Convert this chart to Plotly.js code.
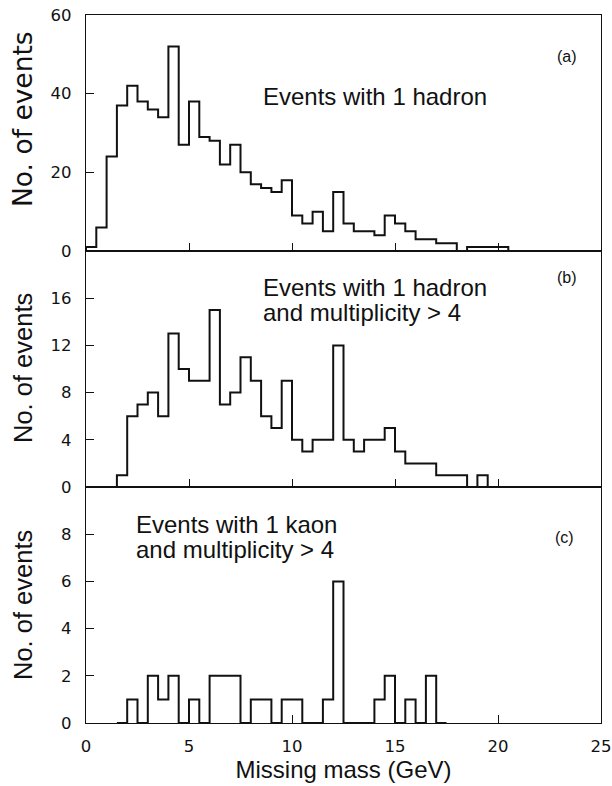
<!DOCTYPE html>
<html>
<head>
<meta charset="utf-8">
<script src="https://cdn.plot.ly/plotly-3.0.1.min.js"></script>
<style>html,body{margin:0;padding:0;background:#fff;}#chart{width:612px;height:786px;}</style>
</head>
<body>
<div id="chart"></div>
<script>
// Bin edges of missing mass (GeV), 0.5 GeV bins
const binEdges = [0,0.5,1,1.5,2,2.5,3,3.5,4,4.5,5,5.5,6,6.5,7,7.5,8,8.5,9,9.5,10,10.5,11,11.5,12,12.5,13,13.5,14,14.5,15,15.5,16,16.5,17,17.5,18,18.5,19,19.5,20,20.5,21];
// (a) Events with 1 hadron
const countsA = [1,6,24,37,42,38,36,34,52,27,38,29,28,22,27,20,17,16,15,18,9,7,10,5,15,7,5,5,4,9,7,5,3,3,2,2,0,1,1,1,1,0];
// (b) Events with 1 hadron and multiplicity > 4  (null = outside the drawn histogram)
const countsB = [null,null,0,1,6,7,8,6,13,10,9,9,15,7,8,11,9,6,5,9,4,3,4,4,12,4,3,4,4,5,3,2,2,2,1,1,1,0,1,0,null,null];
// (c) Events with 1 kaon and multiplicity > 4
const countsC = [null,null,null,0,1,0,2,1,2,0,1,0,2,2,2,0,1,1,0,1,1,0,0,1,6,0,0,0,1,2,0,1,0,2,0,null,null,null,null,null,null,null];

const ticksA = [0,20,40,60];
const ticksB = [0,4,8,12,16];
const ticksC = [0,2,4,6,8];
const ticksX = [0,5,10,15,20,25];

function stepTrace(counts, xa, ya) {
  let first = 0, last = counts.length - 1;
  while (counts[first] === null) first++;
  while (counts[last] === null) last--;
  const x = [binEdges[first]].concat(binEdges.slice(first, last + 2));
  const y = [0].concat(counts.slice(first, last + 1)).concat([0]);
  return {x: x, y: y, type: 'scatter', mode: 'lines', line: {shape: 'hv', color: '#111', width: 2},
          xaxis: xa, yaxis: ya, hoverinfo: 'skip', showlegend: false};
}

const tickFont = {family: 'DejaVu Sans', size: 16.5, color: '#111'};
function yax(domain, vals, range) {
  return {domain: domain, range: range, tickvals: vals, ticktext: vals.map(String), ticks: 'inside', ticklen: 8,
          tickwidth: 1, tickcolor: '#111', showline: true, linecolor: '#111', linewidth: 1.3, mirror: true,
          showgrid: false, zeroline: false, tickfont: tickFont, ticklabelstandoff: 10, fixedrange: true};
}
function xax(anchor, showLabels) {
  return {anchor: anchor, range: [0, 25], tickvals: ticksX, ticktext: ticksX.map(String), ticks: 'inside', ticklen: 8,
          tickwidth: 1, tickcolor: '#111', showline: true, linecolor: '#111', linewidth: 1.3, mirror: true,
          showgrid: false, zeroline: false, showticklabels: showLabels, tickfont: tickFont, ticklabelstandoff: 8, fixedrange: true};
}

const L = 86, R = 601, T = 15, B = 723;
function px(p) { return (p - L) / (R - L); }
function py(p) { return (B - p) / (B - T); }

const annFont = {family: 'Liberation Sans', size: 24, color: '#111'};
const labFont = {family: 'Liberation Sans', size: 16, color: '#111'};
function note(text, x, y, font, xanchor) {
  return {text: text, xref: 'paper', yref: 'paper', x: px(x), y: py(y), xanchor: xanchor || 'left', yanchor: 'middle',
          showarrow: false, font: font};
}
function ytitle(text, y, font) {
  return {text: text, xref: 'paper', yref: 'paper', x: px(23), y: py(y), xanchor: 'center', yanchor: 'bottom',
          textangle: -90, showarrow: false, font: font};
}

const layout = {
  width: 612, height: 786,
  margin: {l: L, r: 612 - R, t: T, b: 786 - B},
  paper_bgcolor: '#fff', plot_bgcolor: '#fff',
  showlegend: false,
  xaxis: xax('y', false),
  yaxis: yax([2/3, 1], ticksA, [0, 60]),
  xaxis2: xax('y2', false),
  yaxis2: yax([1/3, 2/3], ticksB, [0, 20]),
  xaxis3: Object.assign(xax('y3', true), {title: {text: 'Missing mass (GeV)', font: {family: 'Liberation Sans', size: 24, color: '#111'}, standoff: 6}}),
  yaxis3: yax([0, 1/3], ticksC, [0, 10]),
  annotations: [
    note('Events with 1 hadron', 261, 96, annFont),
    note('(a)', 567, 57, labFont, 'center'),
    note('Events with 1 hadron', 261, 287, annFont),
    note('and multiplicity > 4', 261, 312, annFont),
    note('(b)', 567, 277, labFont, 'center'),
    note('Events with 1 kaon', 134, 524, annFont),
    note('and multiplicity > 4', 134, 549, annFont),
    note('(c)', 564, 537, labFont, 'center'),
    ytitle('No. of events', 209, {family: 'DejaVu Sans', size: 26.5, color: '#111'}),
    ytitle('No. of events', 445, {family: 'Liberation Sans', size: 25.5, color: '#111'}),
    ytitle('No. of events', 682, {family: 'Liberation Sans', size: 25.5, color: '#111'})
  ]
};

Plotly.newPlot('chart', [
  stepTrace(countsA, 'x', 'y'),
  stepTrace(countsB, 'x2', 'y2'),
  stepTrace(countsC, 'x3', 'y3')
], layout, {staticPlot: true, displayModeBar: false});
</script>
</body>
</html>
